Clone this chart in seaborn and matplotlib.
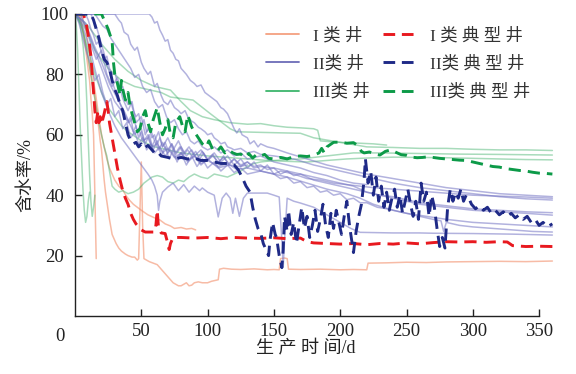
import matplotlib
matplotlib.use("Agg")
import matplotlib.pyplot as plt
from matplotlib.lines import Line2D
import pandas as pd
import seaborn as sns

# ---- production days vs. water cut (%) for each well: (day, water cut) ----
# Class I wells
I_1 = [(0, 100), (3, 100), (5, 97), (7, 92), (9, 85), (11, 78), (12, 72), (13, 67), (14, 60), (15, 40), (16, 19)]
I_2 = [(0, 100), (3, 100), (5, 96), (8, 90), (10, 85), (13, 77), (15, 72), (17, 66), (18, 62), (19, 58), (20, 55),
       (21, 50), (22, 45), (23, 41), (24, 38), (26, 32), (28, 27), (30, 25), (31, 24), (33, 22.5), (35, 21.5),
       (38, 20.5), (40, 20), (43, 19.5), (45, 19.5), (47, 18.5), (48, 19), (49, 35), (50, 51), (51, 30), (52, 19),
       (54, 18.5), (56, 18), (59, 17.5), (62, 17), (64, 16), (66, 15), (68, 14), (70, 13), (72, 12), (74, 11),
       (76, 10.5), (78, 10), (80, 10), (82, 10.5), (84, 11), (86, 10), (88, 10.2), (90, 11), (93, 11.3), (96, 11),
       (100, 11), (103, 11.5), (106, 11.8), (108, 12), (109, 15.5), (112, 15.8), (118, 15.5), (125, 15.4),
       (135, 15.6), (145, 15.3), (150, 15.4), (154, 15.3), (155, 19), (158, 19.2), (160, 19), (161, 15.5),
       (170, 15.4), (185, 15.5), (200, 15.3), (210, 15.4), (220, 15.3), (221, 17.5), (235, 17.6), (250, 17.8),
       (265, 17.7), (280, 17.9), (300, 18), (320, 18.1), (340, 18), (360, 18.2)]
I_3 = [(0, 100), (4, 100), (6, 98), (8, 95), (10, 90), (12, 84), (14, 78), (16, 72), (18, 66), (20, 60), (22, 56),
       (24, 52), (26, 49), (28, 47), (30, 45), (33, 43), (36, 41.7), (39, 39.5), (41, 38.4), (44, 37), (47, 36),
       (50, 35), (55, 33.5), (60, 32.5), (64, 31.8), (68, 30.5), (72, 29.8), (75, 29), (80, 29.3), (84, 28.8),
       (88, 29), (91, 28.5)]

# Class II wells
II_1 = [(0, 100), (40, 100), (56, 100), (58, 99), (60, 97), (62, 97.5), (64, 94.7), (66, 93), (68, 91), (70, 91.5),
        (72, 88), (74, 87), (76, 85), (78, 84.5), (80, 82), (82, 81), (84, 80), (87, 78), (90, 77), (92, 76),
        (95, 76.5), (98, 74), (101, 73), (104, 72), (107, 71), (110, 69), (112, 68.5), (115, 67), (118, 64),
        (120, 62), (122, 60.6), (124, 62), (126, 60), (128, 59.5), (130, 59), (132, 57), (135, 58), (138, 56),
        (140, 57), (145, 56), (150, 55.5), (160, 54), (175, 52), (190, 50), (205, 48.5), (220, 47), (240, 45.5),
        (260, 44), (280, 42.5), (300, 41.5), (320, 40.5), (340, 40), (360, 39.5)]
II_2 = [(0, 100), (30, 100), (33, 98), (35, 97), (37, 94), (40, 93), (42, 90), (45, 88), (47, 89), (50, 84),
        (52, 82), (55, 80), (57, 81), (60, 76), (62, 77), (65, 73), (67, 71), (70, 70), (72, 71.5), (75, 69),
        (78, 68), (80, 67), (83, 68), (85, 66), (88, 64.5), (90, 64), (93, 62.5), (95, 62), (98, 61), (100, 60),
        (103, 60.5), (105, 59), (108, 58), (110, 57), (113, 57.5), (115, 56), (118, 55.5), (120, 55), (125, 55.5),
        (130, 54), (135, 54.5), (140, 53.5), (150, 53), (165, 52), (180, 50), (200, 48), (220, 46), (240, 44),
        (260, 42.5), (280, 41.5), (300, 40.5), (320, 39.5), (340, 38.8), (360, 38.4)]
II_3 = [(0, 100), (4, 98), (8, 93), (12, 87), (16, 80), (20, 74), (25, 68), (30, 63), (35, 59), (40, 56), (45, 53),
        (50, 50), (55, 47), (58, 45), (60, 43), (62, 40), (63, 35), (64, 38), (66, 41), (70, 42.7), (74, 44),
        (78, 41.5), (82, 43.5), (86, 41), (90, 43), (94, 41.5), (96, 42.4), (100, 41), (105, 40), (108, 32.8),
        (111, 39), (114, 40.7), (117, 39), (119, 34), (121, 39), (124, 33), (127, 39), (130, 40.7), (145, 40.7),
        (150, 40), (154, 39.4), (156, 25), (157, 16.2), (158, 25), (160, 39), (165, 38), (170, 37.4), (180, 36),
        (190, 33.5), (200, 31), (208, 29), (215, 27.7), (240, 27.5), (260, 27.5), (270, 27.4), (300, 27.3),
        (330, 27.1), (360, 26.8)]
II_4 = [(0, 100), (5, 98), (10, 94), (15, 88), (20, 82), (25, 76), (30, 71), (35, 68), (40, 64), (42, 66), (44, 61),
        (46, 63), (48, 59), (50, 61), (52, 58), (55, 60), (58, 56), (60, 58), (63, 55), (66, 57.5), (70, 54),
        (73, 57), (76, 53.5), (80, 56), (84, 53), (88, 55), (92, 52), (96, 54.5), (100, 51.5), (104, 53.5),
        (108, 50.5), (112, 53), (116, 50), (120, 52), (125, 49.5), (130, 51), (135, 49), (140, 49.5), (150, 49),
        (160, 48), (170, 47), (180, 46), (190, 45), (200, 44), (210, 43), (220, 41), (230, 40), (240, 39),
        (250, 38), (260, 37), (270, 36.5), (280, 36), (290, 35.5), (300, 35), (320, 34.5), (340, 34), (360, 33.4)]
II_5 = [(0, 100), (8, 97), (14, 90), (20, 84), (26, 77), (32, 72), (38, 67), (41, 64), (44, 66), (47, 61), (50, 62),
        (53, 57), (56, 60), (59, 55), (62, 58), (65, 53), (68, 56), (71, 52), (74, 55), (77, 51), (80, 54), (84, 50),
        (88, 53), (92, 49.5), (96, 52), (100, 49), (105, 51), (110, 48), (115, 50), (120, 47.5), (125, 49),
        (130, 47), (140, 48), (150, 47), (155, 45.5), (160, 46), (165, 44), (170, 44.5), (175, 42.5), (180, 43),
        (185, 41), (190, 41.5), (195, 40), (200, 40.5), (205, 38.5), (210, 39), (215, 37.5), (220, 37.5),
        (228, 36), (235, 35.5), (250, 34), (265, 33), (280, 32), (300, 31), (320, 30.5), (340, 30), (360, 29.5)]
II_6 = [(0, 100), (12, 100), (16, 96), (20, 90), (25, 82), (30, 75), (36, 68), (42, 63), (45, 60), (48, 62), (51, 58),
        (55, 59), (58, 56), (62, 57), (66, 54), (70, 55.5), (75, 52.5), (80, 54), (85, 51.5), (90, 53), (95, 50.5),
        (100, 51.5), (108, 49.5), (115, 50.5), (122, 48.5), (130, 49), (145, 47.5), (160, 46), (175, 44),
        (190, 42), (205, 40.5), (215, 39), (225, 37), (240, 35), (255, 33.5), (270, 32), (276, 31.5), (278, 28),
        (280, 31), (290, 30), (300, 29.5), (315, 29), (330, 28.5), (345, 28), (360, 27.8)]
II_7 = [(0, 100), (4, 100), (8, 96), (12, 90), (16, 85), (20, 88), (24, 80), (28, 76), (32, 79), (36, 72), (40, 68),
        (43, 71), (46, 64), (50, 66), (53, 60), (56, 63), (60, 58), (63, 61), (66, 56), (70, 59), (74, 55), (78, 58),
        (82, 54), (86, 56), (90, 53), (95, 55), (100, 52), (105, 54), (110, 51), (115, 53), (120, 50), (125, 52),
        (130, 49), (135, 51), (140, 48), (145, 50), (150, 47), (155, 48), (165, 47), (175, 45.5), (185, 45),
        (195, 44), (205, 43.5), (215, 43), (225, 42.5), (240, 42), (255, 41.5), (270, 41), (285, 40.5), (300, 40),
        (320, 39.7), (340, 39.4), (360, 39)]
II_8 = [(0, 100), (3, 97), (6, 92), (9, 87), (12, 83), (15, 78), (18, 80), (21, 74), (24, 70), (27, 72), (30, 66),
        (33, 68), (36, 62), (39, 64), (42, 59), (45, 61), (48, 57), (51, 59), (54, 55), (57, 57), (60, 54), (64, 56),
        (68, 53), (72, 55), (76, 52), (80, 54), (85, 51), (90, 53), (95, 50), (100, 52), (108, 49), (116, 50),
        (124, 49.5), (130, 50)]
II_9 = [(0, 100), (15, 100), (18, 98), (21, 96), (24, 95), (27, 92), (30, 90), (33, 88), (36, 86), (39, 84),
        (42, 82), (45, 79), (48, 80), (51, 76), (54, 74), (57, 75), (60, 71), (63, 69), (66, 70), (69, 66), (72, 64),
        (75, 65), (78, 62), (81, 60), (84, 61), (87, 58), (90, 57), (93, 58), (96, 56), (100, 55), (105, 56),
        (110, 54), (115, 55), (120, 53), (125, 54), (130, 52), (140, 53), (150, 51), (160, 50), (170, 49),
        (180, 47.5), (190, 46.5), (200, 45), (210, 44), (220, 43.5)]
II_10 = [(0, 100), (8, 100), (10, 98), (12, 95), (14, 93), (16, 90), (18, 91), (20, 87), (22, 85), (24, 86),
         (26, 82), (28, 80), (30, 81), (32, 77), (34, 75), (36, 76), (38, 72), (40, 70), (42, 71), (44, 68),
         (46, 66), (48, 67), (50, 63), (52, 65), (54, 61), (56, 62), (58, 59), (60, 60), (62, 57), (64, 59),
         (66, 56), (68, 57.5), (70, 55), (73, 57), (76, 54), (79, 56), (82, 53.5), (85, 55), (88, 53), (91, 54.5),
         (94, 52), (97, 54), (100, 51.5), (104, 53), (108, 51), (112, 52.5), (116, 50.5), (120, 52), (125, 50),
         (130, 51), (135, 49.5), (140, 50), (145, 48.5), (150, 49), (155, 47), (160, 48), (165, 46.5), (170, 47),
         (180, 45), (190, 44), (200, 43), (210, 42), (220, 41), (230, 40), (240, 39.5), (250, 38.5), (260, 37.5),
         (270, 37), (280, 36.5), (290, 36), (300, 35.5), (320, 35), (340, 34.5), (360, 34.2)]

# Class III wells
III_1 = [(0, 100), (1, 96), (2, 88), (3, 75), (4, 62), (5, 52), (6, 42), (7, 35), (8, 31), (9, 33), (10, 38), (11, 41)]
III_2 = [(0, 100), (2, 99), (4, 96), (6, 90), (8, 80), (9, 70), (10, 58), (11, 47), (12, 38), (13, 33), (14, 36),
         (15, 40)]
III_3 = [(0, 100), (3, 98), (6, 94), (9, 88), (12, 80), (15, 72), (18, 64), (20, 60), (22, 56), (24, 53), (26, 48),
         (28, 43), (30, 42), (33, 41), (36, 41.5), (40, 40.5), (44, 41), (48, 42), (52, 44), (55, 45), (58, 46),
         (62, 46.5), (66, 46), (70, 44.5), (74, 44), (78, 45), (82, 44.5), (86, 46), (90, 47), (95, 46),
         (100, 45.5), (105, 47), (110, 46.5), (115, 46), (120, 47), (125, 48), (130, 49.5), (135, 50.5), (140, 51),
         (150, 51.5), (170, 52), (190, 53), (210, 54), (230, 54), (260, 53.8), (290, 53.6), (320, 53.5),
         (340, 53.4), (360, 53.3)]
III_4 = [(0, 100), (10, 96), (20, 90), (30, 85), (40, 81), (50, 78), (60, 76), (72, 74.8), (80, 71), (87, 68),
         (96, 66), (105, 65), (117, 64), (130, 63.5), (140, 63.7), (150, 63), (160, 62.5), (170, 62.3), (180, 62),
         (183, 61.5), (185, 58), (195, 57.6), (210, 57.3), (225, 57), (235, 56.6)]
III_5 = [(0, 100), (8, 95), (15, 88), (25, 82), (35, 78), (45, 76), (55, 75), (65, 74), (72, 72.5), (89, 71.5),
         (102, 67), (117, 62), (122, 61), (140, 60.8), (160, 60.6), (170, 60.5), (180, 59), (200, 57.5), (220, 56),
         (240, 55.8), (260, 55.5), (280, 55.5), (300, 55.2), (320, 55), (340, 55), (360, 54.8)]
III_6 = [(0, 100), (5, 96), (10, 88), (15, 80), (20, 74), (25, 69), (30, 66), (35, 63), (40, 61), (50, 58), (60, 56),
         (70, 55), (80, 54), (90, 53.5), (100, 53), (115, 52.5), (130, 52), (145, 51.5), (160, 51.2), (175, 51),
         (190, 51.5), (205, 52), (220, 52.3), (240, 52.6), (260, 52.5), (280, 52.4), (300, 52.2), (320, 52),
         (340, 51.8), (360, 51.7)]

# Typical wells
typ_I = [(0, 100), (6, 100), (8, 98), (10, 93), (12, 86), (13, 80), (14, 74), (15, 68), (16, 64), (17, 67), (18, 64),
         (19, 66), (20, 63.5), (22, 67), (24, 71), (25, 68), (26, 64), (28, 59), (30, 54), (32, 49), (34, 45),
         (36, 41.5), (38, 39), (40, 37), (42, 34), (44, 32), (46, 30.5), (48, 29.5), (50, 28.5), (53, 27.8),
         (56, 27.8), (60, 27.8), (61, 30), (62, 35), (63, 29), (65, 27.5), (68, 27.3), (70, 24), (71, 22), (72, 24),
         (74, 26), (80, 26), (90, 25.8), (100, 26), (110, 25.6), (120, 26), (130, 25.8), (140, 25.7), (150, 25.9),
         (160, 25.6), (170, 25.8), (175, 24.6), (180, 24.2), (190, 24), (200, 23.8), (210, 24), (220, 23.6),
         (230, 24), (240, 23.8), (250, 24.2), (260, 23.9), (270, 24.3), (280, 24.6), (290, 24.5), (300, 24.6),
         (310, 24.4), (320, 24.6), (326, 24.5), (330, 23.3), (340, 23), (350, 23.1), (360, 23)]
typ_II = [(0, 100), (12, 100), (14, 98), (16, 95), (18, 92), (20, 88), (22, 85), (24, 84), (26, 82), (28, 78),
          (30, 75), (32, 73), (34, 70), (36, 68), (38, 64), (40, 60), (42, 58), (44, 57), (46, 57.5), (48, 56),
          (50, 57), (52, 55.5), (55, 56.5), (58, 55), (60, 54), (62, 54.5), (65, 53), (70, 52.5), (75, 52),
          (80, 52.5), (85, 52), (90, 52.3), (95, 51.5), (100, 51.5), (105, 51), (110, 50.5), (115, 50.5), (120, 50),
          (123, 48.5), (126, 46), (129, 43), (132, 41), (134, 36), (136, 32), (138, 29), (140, 27.5), (142, 24),
          (144, 22), (146, 20), (147, 25), (149, 31), (151, 27), (152, 26), (154, 20), (156, 16), (157, 22),
          (158, 33), (160, 28), (161, 35), (163, 27), (165, 31), (167, 24), (169, 30), (171, 36), (173, 29),
          (175, 33), (177, 26), (179, 30), (181, 35), (183, 28), (185, 32), (187, 37), (189, 30), (191, 26),
          (193, 34), (195, 29), (197, 35), (199, 31), (201, 27), (203, 33), (205, 38), (207, 30), (209, 24),
          (210, 21), (212, 28), (214, 33), (216, 37), (218, 45), (219, 52), (221, 44), (223, 48), (225, 40),
          (227, 46), (229, 38), (231, 43), (233, 36), (235, 41), (237, 35), (239, 39), (241, 42), (243, 36),
          (245, 40), (247, 34), (249, 38), (251, 42), (253, 37), (255, 33), (257, 38), (259, 32), (261, 44),
          (263, 38), (265, 41), (267, 33), (269, 40), (271, 36), (273, 29), (275, 23), (277, 26), (279, 22.5),
          (281, 36), (283, 42), (285, 38), (287, 41), (289, 39), (291, 42), (293, 38), (295, 40), (297, 39),
          (299, 37), (302, 35.5), (305, 36.5), (308, 35), (311, 36), (314, 34), (317, 35), (320, 33.5),
          (323, 34.5), (326, 33), (329, 34), (332, 32.5), (335, 33.5), (338, 32), (341, 33), (344, 31), (347, 32),
          (350, 30), (353, 31), (356, 29.5), (360, 30.5)]
typ_III = [(0, 100), (20, 100), (22, 98), (25, 95), (28, 91), (29, 84), (30, 80), (32, 77), (34, 73), (35, 78),
           (36, 75), (38, 71.5), (40, 74), (41, 71), (43, 67), (45, 64), (47, 61), (49, 62), (51, 66), (53, 68),
           (55, 64), (57, 61), (59, 65), (62, 69), (64, 64), (66, 60), (68, 62), (70, 65), (72, 60), (74, 59),
           (76, 64), (79, 66), (81, 63), (83, 61), (85, 66.5), (88, 62.6), (90, 61), (93, 59), (96, 57), (99, 56),
           (101, 58), (104, 55), (107, 54.5), (110, 56), (113, 54), (116, 55), (119, 54), (122, 53.5), (125, 53.6),
           (128, 52.5), (131, 53.8), (134, 52.3), (137, 53.5), (140, 53), (143, 53.5), (146, 52.2), (150, 52),
           (155, 52.5), (160, 52), (165, 52.8), (170, 53), (175, 52.8), (180, 53.2), (184, 54), (186, 55.5),
           (188, 54), (190, 56), (195, 57.5), (200, 57.6), (205, 57.2), (210, 57.4), (213, 56.5), (216, 54.5),
           (218, 54), (222, 54.3), (226, 53.6), (230, 53.3), (234, 54.5), (238, 55), (242, 54.2), (246, 53.4),
           (250, 53.2), (254, 52.6), (258, 52.4), (262, 52.5), (266, 52.7), (270, 52.5), (275, 52.2), (280, 52),
           (285, 51.8), (290, 51.6), (295, 51.5), (300, 51), (305, 50.5), (310, 50), (315, 49.5), (320, 49.3),
           (325, 48.8), (330, 48.5), (335, 48.2), (340, 48), (345, 47.6), (350, 47.3), (355, 47.2), (360, 47)]

class_I = {"I-1": I_1, "I-2": I_2, "I-3": I_3}
class_II = {"II-1": II_1, "II-2": II_2, "II-3": II_3, "II-4": II_4, "II-5": II_5, "II-6": II_6, "II-7": II_7,
            "II-8": II_8, "II-9": II_9, "II-10": II_10}
class_III = {"III-1": III_1, "III-2": III_2, "III-3": III_3, "III-4": III_4, "III-5": III_5, "III-6": III_6}

leg_labels = ["I 类 井", "II类 井", "III类 井", "I 类 典 型 井", "II类 典 型 井", "III类 典 型 井"]
x_ticks = [50, 100, 150, 200, 250, 300, 350]
y_ticks = [20, 40, 60, 80, 100]


def to_frame(wells):
    rows = []
    for name, pts in wells.items():
        for d, v in pts:
            rows.append({"well": name, "day": d, "wc": v})
    return pd.DataFrame(rows)


sns.set_theme(style="ticks")
plt.rcParams["font.family"] = ["Liberation Serif", "Noto Sans CJK SC"]
plt.rcParams["axes.unicode_minus"] = False

fig = plt.figure(figsize=(5.76, 3.74), dpi=100)
ax = fig.add_axes([0.1302, 0.1551, 0.8311, 0.8075])

bg_style = [
    (class_I, "#f28f6b", 0.6),
    (class_III, "#3fb06a", 0.45),
    (class_II, "#7474c4", 0.55),
]
for wells, color, alpha in bg_style:
    sns.lineplot(data=to_frame(wells), x="day", y="wc", units="well", estimator=None,
                 color=color, alpha=alpha, lw=1.1, sort=False, legend=False, ax=ax)

typ_style = [(typ_I, "#e8191f"), (typ_III, "#0c9a48"), (typ_II, "#1f2a87")]
for pts, color in typ_style:
    df = pd.DataFrame(pts, columns=["day", "wc"])
    sns.lineplot(data=df, x="day", y="wc", color=color, lw=2.1, sort=False, legend=False, ax=ax)
    ax.lines[-1].set_dashes([4.2, 2.4])

ax.set_xlim(0, 361)
ax.set_ylim(0, 100)
sns.despine(ax=ax)
ax.spines["left"].set_bounds(0, 100)
ax.spines["bottom"].set_bounds(0, 350)
for s in ("left", "bottom"):
    ax.spines[s].set_linewidth(1.0)
    ax.spines[s].set_color("#222222")

ax.set_xticks(x_ticks)
ax.set_yticks(y_ticks)
ax.tick_params(axis="both", direction="in", length=5, width=1.0, color="#222222",
               labelsize=13.5, labelcolor="#222222")
ax.tick_params(axis="x", pad=5)
ax.tick_params(axis="y", pad=14.5)
for lab in ax.get_yticklabels():
    lab.set_horizontalalignment("center")
ax.text(-0.031, -0.068, "0", transform=ax.transAxes, ha="center", va="center",
        fontsize=13.5, color="#222222")

ax.set_xlabel("生 产 时 间/d", fontsize=13, color="#222222")
ax.set_ylabel("含水率/%", fontsize=13, color="#222222")
ax.xaxis.set_label_coords(0.4826, -0.079)
ax.yaxis.set_label_coords(-0.085, 0.467)

handles = [
    Line2D([], [], color="#f4a080", lw=1.3),
    Line2D([], [], color="#6c6cb8", lw=1.3),
    Line2D([], [], color="#3db56c", lw=1.3),
    Line2D([], [], color="#e8191f", lw=2.1, dashes=[4.0, 2.3]),
    Line2D([], [], color="#1f2a87", lw=2.1, dashes=[4.0, 2.3]),
    Line2D([], [], color="#0c9a48", lw=2.1, dashes=[4.0, 2.3]),
]
ax.legend(handles, leg_labels, ncol=2, frameon=False, fontsize=12.5, loc="upper left",
          bbox_to_anchor=(0.399, 0.955), borderpad=0, borderaxespad=0, handlelength=1.9,
          handletextpad=0.8, columnspacing=0.75, labelspacing=0.68, labelcolor="#333333")

fig.savefig("out.png", dpi=100)
